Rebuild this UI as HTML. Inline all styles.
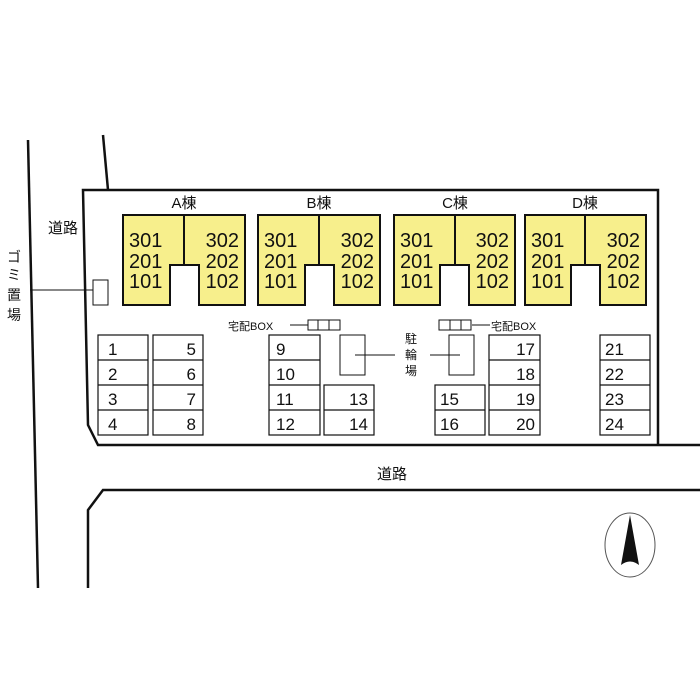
<!DOCTYPE html>
<html><head><meta charset="utf-8"><style>
html,body{margin:0;padding:0;background:#fff;}
svg{display:block;}
text{font-family:"Liberation Sans","Noto Sans CJK JP",sans-serif;fill:#111;}
</style></head><body>
<svg width="700" height="700" viewBox="0 0 700 700" xmlns="http://www.w3.org/2000/svg">
<g stroke="#111" stroke-width="2.5" fill="none">
<line x1="28" y1="140" x2="38" y2="588"/>
<line x1="103" y1="135" x2="108" y2="190"/>
<polyline points="700,445 98,445 88,425 83,190 658,190 658,445"/>
<polyline points="700,490 103,490 88,510 88,588"/>
</g>
<text x="63" y="233" font-size="15" text-anchor="middle">道路</text>
<text x="392" y="479" font-size="15" text-anchor="middle">道路</text>
<g font-size="14" text-anchor="middle">
<text x="14" y="262">ゴ</text><text x="14" y="280">ミ</text><text x="14" y="300">置</text><text x="14" y="320">場</text>
</g>
<line x1="30" y1="290" x2="100" y2="290" stroke="#111" stroke-width="1"/>
<rect x="93" y="280" width="15" height="25" fill="#fff" stroke="#111" stroke-width="1"/>
<g id="bldgs">
<g transform="translate(123,0)">
<path d="M0,215 H122 V305 H76 V265 H47 V305 H0 Z" fill="#f7ef8c" stroke="#111" stroke-width="2"/>
<line x1="61" y1="215" x2="61" y2="265" stroke="#111" stroke-width="2"/>
<g font-size="20"><text x="6" y="247">301</text><text x="6" y="268">201</text><text x="6" y="288">101</text>
<text x="116" y="247" text-anchor="end">302</text><text x="116" y="268" text-anchor="end">202</text><text x="116" y="288" text-anchor="end">102</text></g>
<text x="61" y="208" font-size="15" text-anchor="middle">A棟</text>
</g>
<g transform="translate(258,0)">
<path d="M0,215 H122 V305 H76 V265 H47 V305 H0 Z" fill="#f7ef8c" stroke="#111" stroke-width="2"/>
<line x1="61" y1="215" x2="61" y2="265" stroke="#111" stroke-width="2"/>
<g font-size="20"><text x="6" y="247">301</text><text x="6" y="268">201</text><text x="6" y="288">101</text>
<text x="116" y="247" text-anchor="end">302</text><text x="116" y="268" text-anchor="end">202</text><text x="116" y="288" text-anchor="end">102</text></g>
<text x="61" y="208" font-size="15" text-anchor="middle">B棟</text>
</g>
<g transform="translate(394,0)">
<path d="M0,215 H121 V305 H75 V265 H46 V305 H0 Z" fill="#f7ef8c" stroke="#111" stroke-width="2"/>
<line x1="61" y1="215" x2="61" y2="265" stroke="#111" stroke-width="2"/>
<g font-size="20"><text x="6" y="247">301</text><text x="6" y="268">201</text><text x="6" y="288">101</text>
<text x="115" y="247" text-anchor="end">302</text><text x="115" y="268" text-anchor="end">202</text><text x="115" y="288" text-anchor="end">102</text></g>
<text x="61" y="208" font-size="15" text-anchor="middle">C棟</text>
</g>
<g transform="translate(525,0)">
<path d="M0,215 H121 V305 H75 V265 H46 V305 H0 Z" fill="#f7ef8c" stroke="#111" stroke-width="2"/>
<line x1="60" y1="215" x2="60" y2="265" stroke="#111" stroke-width="2"/>
<g font-size="20"><text x="6" y="247">301</text><text x="6" y="268">201</text><text x="6" y="288">101</text>
<text x="115" y="247" text-anchor="end">302</text><text x="115" y="268" text-anchor="end">202</text><text x="115" y="288" text-anchor="end">102</text></g>
<text x="60" y="208" font-size="15" text-anchor="middle">D棟</text>
</g>
</g>
<!-- delivery boxes -->
<g stroke="#111" stroke-width="1" fill="#fff">
<line x1="290" y1="325" x2="308" y2="325"/>
<rect x="308" y="320" width="32" height="10"/><line x1="318" y1="320" x2="318" y2="330"/><line x1="329" y1="320" x2="329" y2="330"/>
<line x1="472" y1="325" x2="490" y2="325"/>
<rect x="439" y="320" width="32" height="10"/><line x1="450" y1="320" x2="450" y2="330"/><line x1="461" y1="320" x2="461" y2="330"/>
</g>
<text x="228" y="330" font-size="11">宅配BOX</text>
<text x="491" y="330" font-size="11">宅配BOX</text>
<!-- bicycle -->
<g stroke="#111" stroke-width="1" fill="none">
<rect x="340" y="335" width="25" height="40"/>
<rect x="449" y="335" width="25" height="40"/>
<line x1="355" y1="355" x2="395" y2="355"/>
<line x1="430" y1="355" x2="460" y2="355"/>
</g>
<g font-size="12" text-anchor="middle"><text x="411" y="343">駐</text><text x="411" y="359">輪</text><text x="411" y="375">場</text></g>
<!-- parking -->
<g stroke="#111" stroke-width="1.2" fill="#fff">
<rect x="98" y="335" width="50" height="100"/><line x1="98" y1="360" x2="148" y2="360"/><line x1="98" y1="385" x2="148" y2="385"/><line x1="98" y1="410" x2="148" y2="410"/>
<rect x="153" y="335" width="50" height="100"/><line x1="153" y1="360" x2="203" y2="360"/><line x1="153" y1="385" x2="203" y2="385"/><line x1="153" y1="410" x2="203" y2="410"/>
<rect x="269" y="335" width="51" height="100"/><line x1="269" y1="360" x2="320" y2="360"/><line x1="269" y1="385" x2="320" y2="385"/><line x1="269" y1="410" x2="320" y2="410"/>
<rect x="324" y="385" width="50" height="50"/><line x1="324" y1="410" x2="374" y2="410"/>
<rect x="435" y="385" width="50" height="50"/><line x1="435" y1="410" x2="485" y2="410"/>
<rect x="489" y="335" width="51" height="100"/><line x1="489" y1="360" x2="540" y2="360"/><line x1="489" y1="385" x2="540" y2="385"/><line x1="489" y1="410" x2="540" y2="410"/>
<rect x="600" y="335" width="50" height="100"/><line x1="600" y1="360" x2="650" y2="360"/><line x1="600" y1="385" x2="650" y2="385"/><line x1="600" y1="410" x2="650" y2="410"/>
</g>
<g font-size="17">
<text x="108" y="355">1</text><text x="108" y="380">2</text><text x="108" y="405">3</text><text x="108" y="430">4</text>
<text x="196" y="355" text-anchor="end">5</text><text x="196" y="380" text-anchor="end">6</text><text x="196" y="405" text-anchor="end">7</text><text x="196" y="430" text-anchor="end">8</text>
<text x="276" y="355">9</text><text x="276" y="380">10</text><text x="276" y="405">11</text><text x="276" y="430">12</text>
<text x="368" y="405" text-anchor="end">13</text><text x="368" y="430" text-anchor="end">14</text>
<text x="440" y="405">15</text><text x="440" y="430">16</text>
<text x="535" y="355" text-anchor="end">17</text><text x="535" y="380" text-anchor="end">18</text><text x="535" y="405" text-anchor="end">19</text><text x="535" y="430" text-anchor="end">20</text>
<text x="605" y="355">21</text><text x="605" y="380">22</text><text x="605" y="405">23</text><text x="605" y="430">24</text>
</g>
<!-- compass -->
<ellipse cx="630" cy="545" rx="25" ry="32" fill="none" stroke="#555" stroke-width="1"/>
<path d="M630,515 L621,565 Q630,558 639,565 Z" fill="#111"/>
</svg>
</body></html>
